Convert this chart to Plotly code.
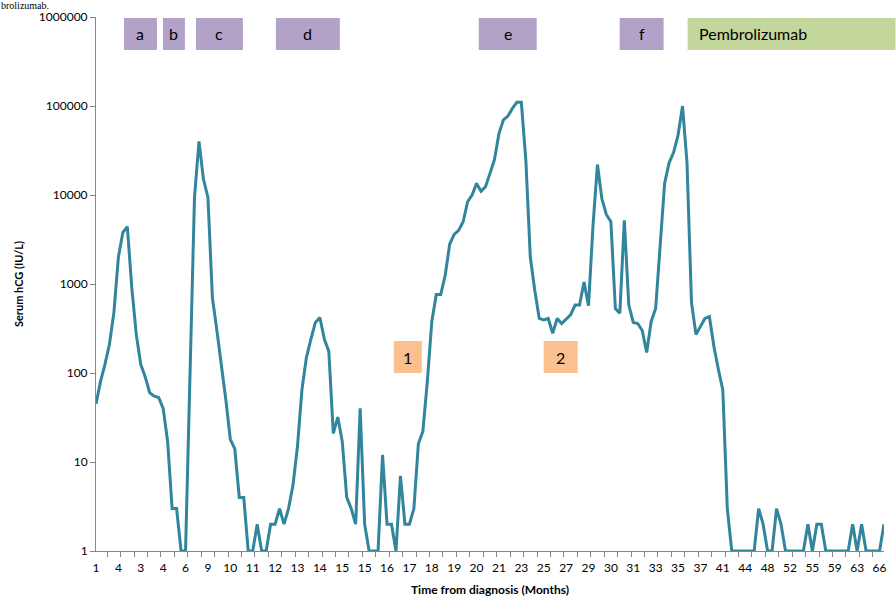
import plotly.graph_objects as go

# Serum hCG (IU/L), one value per measurement (category index)
hcg = [
    45, 80, 125, 210, 480, 2000, 3800, 4400, 900, 270,
    125, 90, 60, 55, 53, 40, 17, 3, 3, 1,
    1, 90, 9500, 40000, 15000, 9400, 700, 300, 130, 50,
    18, 14, 4, 4, 1, 1, 2, 1, 1, 2,
    2, 3, 2, 3, 5.5, 15, 65, 150, 240, 370,
    420, 240, 175, 21, 32, 17, 4, 3, 2, 40,
    2, 1, 1, 1, 12, 2, 2, 1, 7, 2,
    2, 3, 16, 22, 80, 380, 760, 760, 1260, 2800,
    3600, 4000, 5000, 8400, 10000, 13500, 11000, 12400, 17500, 25000,
    49000, 70000, 77000, 94000, 110000, 110000, 25000, 2000, 850, 410,
    395, 410, 280, 410, 360, 400, 450, 580, 580, 1050,
    570, 4500, 22000, 9000, 6000, 5000, 530, 470, 5200, 580,
    370, 360, 300, 170, 380, 530, 2800, 13500, 23000, 30000,
    47000, 100000, 23000, 620, 270, 330, 410, 430, 200, 110,
    64, 3, 1, 1, 1, 1, 1, 1, 3, 2,
    1, 1, 3, 2, 1, 1, 1, 1, 1, 2,
    1, 2, 2, 1, 1, 1, 1, 1, 1, 2,
    1, 2, 1, 1, 1, 1, 2,
]
x_index = list(range(len(hcg)))

# Category labels shown on the x axis (every 5th measurement)
month_labels = ["1", "4", "3", "4", "6", "9", "10", "11", "12", "13", "14", "15",
                "15", "16", "17", "18", "19", "20", "21", "23", "25", "27", "29", "30",
                "31", "33", "35", "37", "41", "44", "48", "52", "55", "59", "63", "66"]
label_step = 5
label_positions = [k * label_step for k in range(len(month_labels))]

y_tick_values = [1, 10, 100, 1000, 10000, 100000, 1000000]
y_tick_labels = ["1", "10", "100", "1000", "10000", "100000", "1000000"]

# Treatment boxes
treat_labels = ["a", "b", "c", "d", "e", "f"]
phase_labels = ["1", "2"]

W, H = 896, 598
L, R, T, B = 96, 11.5, 17, 47
PW, PH = W - L - R, H - T - B

def px(xp):
    return (xp - L) / PW

def py(yp):
    return (H - B - yp) / PH

LINE = "#31859c"
PURPLE = "#b3a2c7"
GREEN = "#c3d69b"
ORANGE = "#fac090"
AXIS = "#868686"
FONT = "Lato"

fig = go.Figure()
fig.add_trace(go.Scatter(
    x=x_index, y=hcg, mode="lines",
    line=dict(color=LINE, width=3),
    hoverinfo="skip", showlegend=False,
))

shapes = []
annotations = []

def box(x0, x1, y0, y1, color, text, align="center", text_x=None, size=16):
    shapes.append(dict(type="rect", xref="paper", yref="paper",
                       x0=px(x0), x1=px(x1), y0=py(y1), y1=py(y0),
                       fillcolor=color, line=dict(width=0), layer="above"))
    if align == "center":
        annotations.append(dict(xref="paper", yref="paper", x=px((x0 + x1) / 2),
                                y=py((y0 + y1) / 2), text=text, showarrow=False,
                                xanchor="center", yanchor="middle",
                                font=dict(family=FONT, size=size, color="#000000")))
    else:
        annotations.append(dict(xref="paper", yref="paper", x=px(text_x),
                                y=py((y0 + y1) / 2), text=text, showarrow=False,
                                xanchor="left", yanchor="middle",
                                font=dict(family=FONT, size=size, color="#000000")))

treat_px = [(124, 157), (163, 185), (196, 243), (276, 340), (479, 537), (620, 664)]
for (x0, x1), lab in zip(treat_px, treat_labels):
    box(x0, x1, 18, 50, PURPLE, lab)
box(688, 896, 18, 50, GREEN, "Pembrolizumab", align="left", text_x=697)

phase_px = [(394, 422), (544, 578)]
for (x0, x1), lab in zip(phase_px, phase_labels):
    box(x0, x1, 341, 373, ORANGE, lab)

# caption fragment at the very top
annotations.append(dict(xref="paper", yref="paper", x=px(0), y=py(-1),
                        text="brolizumab.", showarrow=False,
                        xanchor="left", yanchor="top", borderpad=0,
                        font=dict(family="Liberation Serif", size=10, color="#000000")))

fig.update_layout(
    width=W, height=H,
    margin=dict(l=L, r=R, t=T, b=B, pad=0, autoexpand=False),
    paper_bgcolor="white", plot_bgcolor="white",
    shapes=shapes, annotations=annotations,
    showlegend=False,
    xaxis=dict(
        range=[0, len(hcg) - 1], automargin=False,
        tickmode="array", tickvals=label_positions, ticktext=month_labels,
        ticks="outside", ticklen=6, tickcolor="rgba(0,0,0,0)",
        showline=True, linecolor=AXIS, linewidth=1,
        showgrid=False, zeroline=False,
        tickfont=dict(family=FONT, size=12, color="#000000"),
        minor=dict(tickmode="linear", tick0=2.5, dtick=3, ticks="outside",
                   ticklen=5, tickcolor=AXIS, tickwidth=1, showgrid=False),
        title=dict(text="<b>Time from diagnosis (Months)</b>", standoff=11,
                   font=dict(family=FONT, size=12, color="#000000")),
        fixedrange=True,
    ),
    yaxis=dict(
        type="log", range=[0, 6], automargin=False,
        tickmode="array", tickvals=y_tick_values, ticktext=y_tick_labels,
        ticks="outside", ticklen=5, tickcolor=AXIS, tickwidth=1,
        showline=True, linecolor=AXIS, linewidth=1,
        showgrid=False, zeroline=False,
        tickfont=dict(family=FONT, size=12, color="#000000"),
        title=dict(text="<b>Serum hCG (IU/L)</b>", standoff=13,
                   font=dict(family=FONT, size=11, color="#000000")),
        fixedrange=True,
    ),
)

fig.write_html(
    "out.html",
    config={"displayModeBar": False},
    post_script="document.body.style.margin='0';document.body.style.overflow='hidden';",
)
